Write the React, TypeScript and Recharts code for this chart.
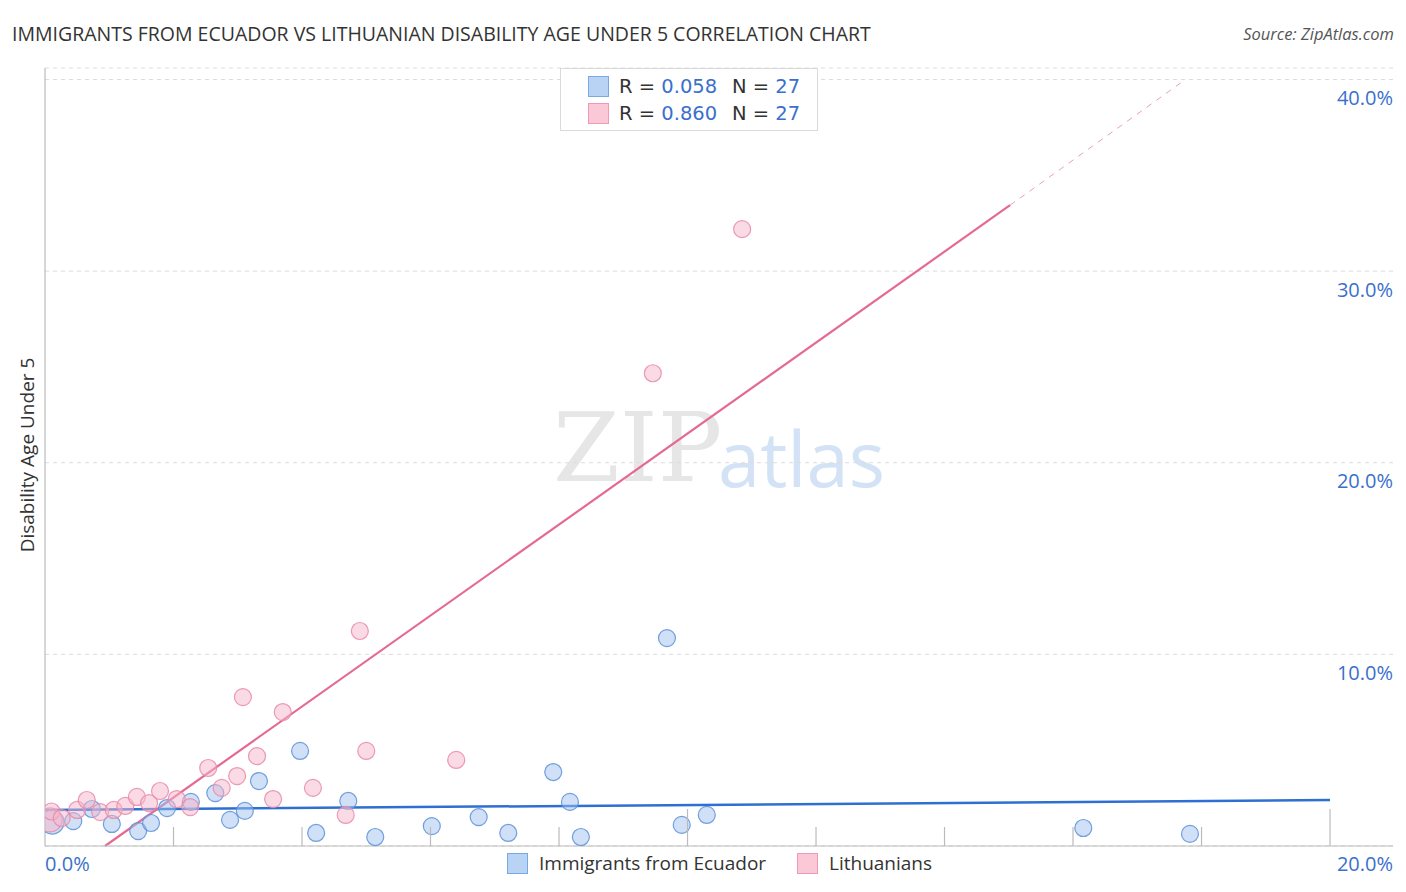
import React from 'react';
import { ScatterChart, Scatter, XAxis, YAxis, CartesianGrid, ReferenceLine } from 'recharts';

const ecuadorX = [0.11, 0.44, 0.73, 1.04, 1.45, 1.65, 1.9, 2.27, 2.65, 2.88, 3.11, 3.33, 3.97, 4.22, 4.72, 5.14, 6.02, 6.75, 7.21, 7.91, 8.17, 8.34, 9.68, 9.91, 10.3, 16.16, 17.82];
const ecuadorY = [1.25, 1.3, 1.93, 1.15, 0.78, 1.2, 1.98, 2.3, 2.76, 1.36, 1.83, 3.39, 4.96, 0.68, 2.35, 0.47, 1.04, 1.51, 0.68, 3.86, 2.3, 0.47, 10.85, 1.1, 1.62, 0.94, 0.63];
const lithX = [0.08, 0.1, 0.26, 0.5, 0.65, 0.86, 1.07, 1.25, 1.43, 1.62, 1.79, 2.05, 2.26, 2.54, 2.75, 2.99, 3.08, 3.3, 3.55, 3.7, 4.17, 4.68, 4.9, 5.0, 6.4, 9.46, 10.85];
const lithY = [1.36, 1.8, 1.46, 1.88, 2.4, 1.77, 1.88, 2.09, 2.56, 2.24, 2.87, 2.45, 2.03, 4.07, 3.03, 3.65, 7.77, 4.69, 2.45, 6.99, 3.03, 1.62, 11.22, 4.96, 4.49, 24.67, 32.19];

// trend lines: [x, y] endpoints
const ecuadorTrend = [[0, 1.88], [20, 2.4]];
const lithTrendSolid = [[0.934, 0], [15.02, 33.44]];
const lithTrendDashed = [[15.02, 33.44], [17.75, 40]];

const xTicks = [0, 2, 4, 6, 8, 10, 12, 14, 16, 18, 20];
const yTicks = [10, 20, 30, 40];
const yTickLabels = ['10.0%', '20.0%', '30.0%', '40.0%'];

const legendRows = [
  { r: '0.058', n: '27' },
  { r: '0.860', n: '27' },
];
const seriesNames = ['Immigrants from Ecuador', 'Lithuanians'];

const ecuadorData = ecuadorX.map((x, i) => ({ x, y: ecuadorY[i], big: i === 0 }));
const lithData = lithX.map((x, i) => ({ x, y: lithY[i], big: i === 0 }));

const FONT = '"Open Sans", "DejaVu Sans", sans-serif';
const LEGEND_FONT = '"DejaVu Sans", sans-serif';
const BLUE_TEXT = '#3a70cc';
const DARK = '#333';

const makeDot = (fill: string, stroke: string) => (props: any) => {
  const { cx, cy, payload } = props;
  if (cx == null || cy == null) return <g />;
  const r = payload && payload.big ? 12 : 8.5;
  return <circle cx={cx} cy={cy} r={r} fill={fill} fillOpacity={0.5} stroke={stroke} strokeOpacity={0.85} strokeWidth={1.2} />;
};

const XTick = (props: any) => {
  const { x, y, payload } = props;
  const v = payload.value;
  const h = v === 10 || v === 20 ? 37 : 19;
  return (
    <g>
      {v !== 0 && <line x1={x} x2={x} y1={y} y2={y - h} stroke="#bbb" strokeWidth={1.2} />}
      {v === 0 && (
        <text x={x} y={y + 17} textAnchor="start" dominantBaseline="central" fill={BLUE_TEXT} fontSize={20} fontFamily={FONT}>0.0%</text>
      )}
      {v === 20 && (
        <text x={x + 63} y={y + 17} textAnchor="end" dominantBaseline="central" fill={BLUE_TEXT} fontSize={20} fontFamily={FONT}>20.0%</text>
      )}
    </g>
  );
};

const YTick = (props: any) => {
  const { x, y, payload } = props;
  const idx = yTicks.indexOf(payload.value);
  return (
    <text x={x} y={y + 18} textAnchor="end" dominantBaseline="central" fill={BLUE_TEXT} fontSize={20} fontFamily={FONT}>
      {idx >= 0 ? yTickLabels[idx] : ''}
    </text>
  );
};

const seg = (s: number[][]) => [{ x: s[0][0], y: s[0][1] }, { x: s[1][0], y: s[1][1] }];

export default function App() {
  return (
    <div style={{ position: 'absolute', left: 0, top: 0, width: 1406, height: 892, background: '#fff', fontFamily: FONT }}>
      <div style={{ position: 'absolute', left: 12, top: 20, fontSize: 19.5, color: DARK, whiteSpace: 'nowrap' }}>
        IMMIGRANTS FROM ECUADOR VS LITHUANIAN DISABILITY AGE UNDER 5 CORRELATION CHART
      </div>
      <div style={{ position: 'absolute', right: 12, top: 22, fontSize: 16.5, color: '#555', fontStyle: 'italic', whiteSpace: 'nowrap' }}>
        Source: ZipAtlas.com
      </div>
      <div style={{ position: 'absolute', left: 27, top: 455, transform: 'translate(-50%, -50%) rotate(-90deg)', fontSize: 19, color: DARK, whiteSpace: 'nowrap' }}>
        Disability Age Under 5
      </div>
      <div style={{ position: 'absolute', left: 553, top: 400, fontSize: 96, fontFamily: '"DejaVu Serif", serif', color: '#e6e6e6', whiteSpace: 'nowrap', lineHeight: 1 }}>
        ZIP
      </div>
      <div style={{ position: 'absolute', left: 718, top: 420, fontSize: 76, color: '#d3e2f5', whiteSpace: 'nowrap', lineHeight: 1 }}>
        atlas
      </div>
      <div style={{ position: 'absolute', left: 0, top: 0 }}>
        <ScatterChart width={1406} height={892} margin={{ top: 68, left: 45, right: 12, bottom: 0 }}>
          <CartesianGrid vertical={false} stroke="#dcdcdc" strokeDasharray="4 4" />
          <XAxis type="number" dataKey="x" domain={[0, 20.98]} allowDataOverflow ticks={xTicks} interval={0} height={46}
            tickSize={0} tickMargin={0} tickLine={false} axisLine={{ stroke: '#bbb', strokeWidth: 1.2 }} tick={<XTick />} />
          <YAxis type="number" dataKey="y" orientation="right" domain={[0, 40.6]} allowDataOverflow ticks={yTicks} interval={0} width={1}
            tickSize={0} tickMargin={0} tickLine={false} axisLine={false} tick={<YTick />} />
          <ReferenceLine x={0} stroke="#bbb" strokeWidth={1.2} />
          <Scatter data={ecuadorData} isAnimationActive={false} shape={makeDot('#9fc2ef', '#5b8fd8')} />
          <Scatter data={lithData} isAnimationActive={false} shape={makeDot('#f5b5ca', '#e88aa8')} />
          <ReferenceLine segment={seg(ecuadorTrend)} stroke="#2d6fd3" strokeWidth={2.5} ifOverflow="visible" />
          <ReferenceLine segment={seg(lithTrendSolid)} stroke="#e46a94" strokeWidth={2.2} ifOverflow="visible" />
          <ReferenceLine segment={seg(lithTrendDashed)} stroke="#e8a0b8" strokeWidth={1} strokeDasharray="6 6" ifOverflow="visible" />
        </ScatterChart>
      </div>
      <div style={{ position: 'absolute', left: 560, top: 68, width: 256, height: 61, border: '1px solid #dadada', background: '#fff' }}>
        {legendRows.map((row, i) => (
          <div key={i} style={{ position: 'absolute', left: 0, top: 7 + i * 27, height: 22, width: 256 }}>
            <div style={{ position: 'absolute', left: 27, top: 0, width: 19, height: 19, background: i === 0 ? '#b9d3f5' : '#fac8d6', border: `1px solid ${i === 0 ? '#7aa7e6' : '#ee9ab5'}` }} />
            <div style={{ position: 'absolute', left: 58, top: -1, fontSize: 19.5, lineHeight: '23px', fontFamily: LEGEND_FONT, color: DARK, whiteSpace: 'nowrap' }}>
              R = <span style={{ color: BLUE_TEXT }}>{row.r}</span>
            </div>
            <div style={{ position: 'absolute', left: 171, top: -1, fontSize: 19.5, lineHeight: '23px', fontFamily: LEGEND_FONT, color: DARK, whiteSpace: 'nowrap' }}>
              N = <span style={{ color: BLUE_TEXT }}>{row.n}</span>
            </div>
          </div>
        ))}
      </div>
      {seriesNames.map((name, i) => (
        <div key={name} style={{ position: 'absolute', left: i === 0 ? 507 : 797, top: 853, height: 22 }}>
          <div style={{ position: 'absolute', left: 0, top: 0, width: 19, height: 19, background: i === 0 ? '#b9d3f5' : '#fac8d6', border: `1px solid ${i === 0 ? '#7aa7e6' : '#ee9ab5'}` }} />
          <div style={{ position: 'absolute', left: 32, top: -3, fontSize: 19, color: DARK, whiteSpace: 'nowrap' }}>{name}</div>
        </div>
      ))}
    </div>
  );
}
